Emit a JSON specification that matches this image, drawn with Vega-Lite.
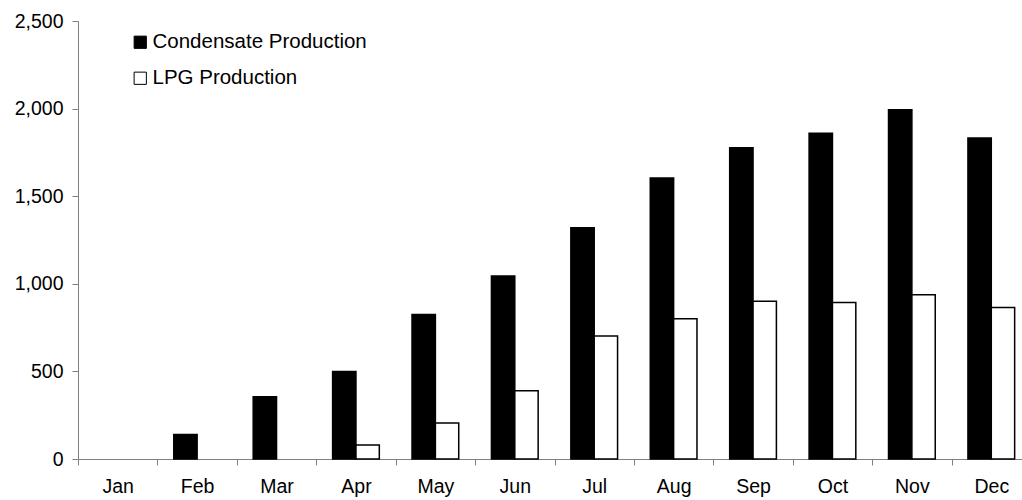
{
  "$schema": "https://vega.github.io/schema/vega-lite/v6.json",
  "autosize": {"type": "none"},
  "width": 944,
  "height": 438,
  "padding": {"left": 78, "top": 21, "right": 0, "bottom": 41},
  "background": "white",
  "config": {
    "view": {"stroke": null},
    "font": "Liberation Sans",
    "axis": {
      "domainColor": "#808080",
      "tickColor": "#808080",
      "labelColor": "#000000",
      "labelFont": "Liberation Sans",
      "labelFontSize": 19.5,
      "tickSize": 6,
      "grid": false,
      "title": null
    }
  },
  "data": {
    "values": [
      {"month": "Feb", "series": "Condensate Production", "value": 140},
      {"month": "Mar", "series": "Condensate Production", "value": 355},
      {"month": "Apr", "series": "Condensate Production", "value": 500},
      {"month": "Apr", "series": "LPG Production", "value": 80},
      {"month": "May", "series": "Condensate Production", "value": 825},
      {"month": "May", "series": "LPG Production", "value": 205},
      {"month": "Jun", "series": "Condensate Production", "value": 1045},
      {"month": "Jun", "series": "LPG Production", "value": 390},
      {"month": "Jul", "series": "Condensate Production", "value": 1320},
      {"month": "Jul", "series": "LPG Production", "value": 702},
      {"month": "Aug", "series": "Condensate Production", "value": 1604},
      {"month": "Aug", "series": "LPG Production", "value": 801},
      {"month": "Sep", "series": "Condensate Production", "value": 1777},
      {"month": "Sep", "series": "LPG Production", "value": 900},
      {"month": "Oct", "series": "Condensate Production", "value": 1860},
      {"month": "Oct", "series": "LPG Production", "value": 893},
      {"month": "Nov", "series": "Condensate Production", "value": 1993},
      {"month": "Nov", "series": "LPG Production", "value": 938},
      {"month": "Dec", "series": "Condensate Production", "value": 1832},
      {"month": "Dec", "series": "LPG Production", "value": 865}
    ]
  },
  "mark": {"type": "bar", "stroke": "#000000", "strokeWidth": 1.5},
  "encoding": {
    "x": {
      "field": "month",
      "type": "nominal",
      "sort": null,
      "scale": {
        "domain": ["Jan", "Feb", "Mar", "Apr", "May", "Jun", "Jul", "Aug", "Sep", "Oct", "Nov", "Dec"],
        "range": [0, 953],
        "paddingInner": 0,
        "paddingOuter": 0
      },
      "axis": {"labelAngle": 0, "labelPadding": 12, "tickBand": "extent"}
    },
    "xOffset": {
      "field": "series",
      "type": "nominal",
      "scale": {"domain": ["Condensate Production", "LPG Production"], "paddingInner": 0, "paddingOuter": 0.7}
    },
    "y": {
      "field": "value",
      "type": "quantitative",
      "scale": {"domain": [0, 2500], "nice": false},
      "axis": {"values": [0, 500, 1000, 1500, 2000, 2500], "format": ",.0f", "labelPadding": 9}
    },
    "color": {
      "field": "series",
      "type": "nominal",
      "scale": {"domain": ["Condensate Production", "LPG Production"], "range": ["#000000", "#ffffff"]},
      "legend": {
        "title": null,
        "orient": "none",
        "legendX": 52,
        "legendY": 11,
        "padding": 0,
        "symbolType": "square",
        "symbolSize": 150,
        "symbolStrokeColor": "#000000",
        "symbolStrokeWidth": 1,
        "labelFont": "Liberation Sans",
        "labelFontSize": 20.5,
        "labelColor": "#000000",
        "labelOffset": 2,
        "labelLimit": 0,
        "rowPadding": 15
      }
    }
  }
}
